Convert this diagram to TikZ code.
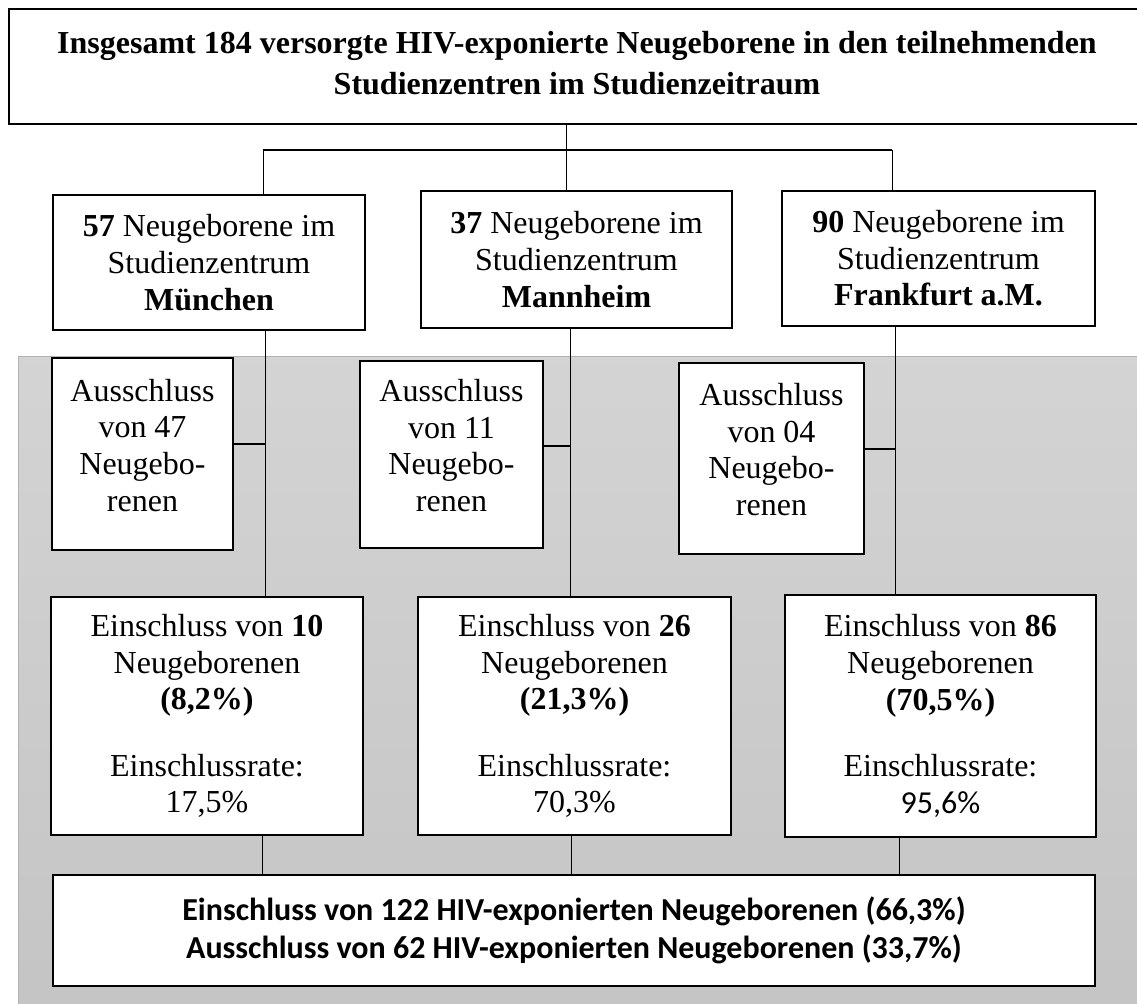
\documentclass[tikz,border=0pt]{standalone}
\usepackage{fontspec}
\setmainfont{Liberation Serif}
\newfontfamily\carlito{Carlito}
\begin{document}
\begin{tikzpicture}[x=0.5pt,y=-0.5pt,
        box/.style={draw, line width=0.8pt, fill=white, align=center, inner sep=0pt,
            font=\fontsize{16}{18.3}\selectfont},
        exbox/.style={box, text depth=9pt},
        link/.style={line width=0.5pt},
        stub/.style={line width=0.9pt}]
    \useasboundingbox (0,0) rectangle (1137,1003);
    \clip (0,0) rectangle (1137,1003);

    % grey region
    \shade[top color=black!17, bottom color=black!23] (18,356) rectangle (1150,1010);
    \draw[black!30, line width=0.5pt] (18,1010) -- (18,356) -- (1150,356);

    \node[box, minimum width=568pt, minimum height=57.5pt, text depth=4pt,
        font=\bfseries\fontsize{16}{20.5}\selectfont] (total) at (577,66.5)
        {Insgesamt 184 versorgte HIV-exponierte Neugeborene in den teilnehmenden\\
         Studienzentren im Studienzeitraum};

    \node[box, minimum width=156pt, minimum height=67.5pt] (muc) at (209,262.5)
        {\textbf{57} Neugeborene im\\Studienzentrum\\\textbf{München}};
    \node[box, minimum width=155.5pt, minimum height=68.5pt] (man) at (576.5,259.5)
        {\textbf{37} Neugeborene im\\Studienzentrum\\\textbf{Mannheim}};
    \node[box, minimum width=156.5pt, minimum height=67.5pt] (fra) at (938.5,258.5)
        {\textbf{90} Neugeborene im\\Studienzentrum\\\textbf{Frankfurt a.M.}};

    \node[exbox, minimum width=90.5pt, minimum height=96pt] (aus1) at (142.5,454)
        {Ausschluss\\von 47\\Neugebo-\\renen};
    \node[exbox, minimum width=91.5pt, minimum height=93.5pt] (aus2) at (451.5,454.5)
        {Ausschluss\\von 11\\Neugebo-\\renen};
    \node[exbox, minimum width=92.5pt, minimum height=95.5pt] (aus3) at (771.5,458.5)
        {Ausschluss\\von 04\\Neugebo-\\renen};

    \node[box, minimum width=156pt, minimum height=119pt] (ein1) at (207,716)
        {Einschluss von \textbf{10}\\Neugeborenen\\\textbf{(8,2\%)}\\[15pt]Einschlussrate:\\17,5\%};
    \node[box, minimum width=156.5pt, minimum height=119pt] (ein2) at (574.5,716)
        {Einschluss von \textbf{26}\\Neugeborenen\\\textbf{(21,3\%)}\\[15pt]Einschlussrate:\\70,3\%};
    \node[box, minimum width=155.5pt, minimum height=121pt] (ein3) at (940.5,716)
        {Einschluss von \textbf{86}\\Neugeborenen\\\textbf{(70,5\%)}\\[15pt]Einschlussrate:\\{\carlito 95,6\%}};

    \node[box, minimum width=521pt, minimum height=55.5pt,
        font=\carlito\bfseries\fontsize{16}{19}\selectfont] (sum) at (574,930.5)
        {Einschluss von 122 HIV-exponierten Neugeborenen (66,3\%)\\
         Ausschluss von 62 HIV-exponierten Neugeborenen (33,7\%)};

    % upper tree
    \coordinate (jl) at (263,150);
    \coordinate (jm) at (566,150);
    \coordinate (jr) at (892,150);
    \draw[stub] (jl) -- (jr);
    \draw[link] (jm |- total.south) -- (jm |- man.north);
    \draw[link] (jl) -- (jl |- muc.north);
    \draw[link] (jr) -- (jr |- fra.north);

    % centre to inclusion
    \coordinate (vm) at (265,444);
    \coordinate (va) at (570,446);
    \coordinate (vf) at (895,449);
    \draw[link] (vm |- muc.south) -- (vm |- ein1.north);
    \draw[link] (va |- man.south) -- (va |- ein2.north);
    \draw[link] (vf |- fra.south) -- (vf |- ein3.north);
    \draw[stub] (aus1.east |- vm) -- (vm);
    \draw[stub] (aus2.east |- va) -- (va);
    \draw[stub] (aus3.east |- vf) -- (vf);

    % inclusion to sum
    \coordinate (bm) at (262,0);
    \coordinate (ba) at (571,0);
    \coordinate (bf) at (899,0);
    \draw[link] (bm |- ein1.south) -- (bm |- sum.north);
    \draw[link] (ba |- ein2.south) -- (ba |- sum.north);
    \draw[link] (bf |- ein3.south) -- (bf |- sum.north);
\end{tikzpicture}
\end{document}
